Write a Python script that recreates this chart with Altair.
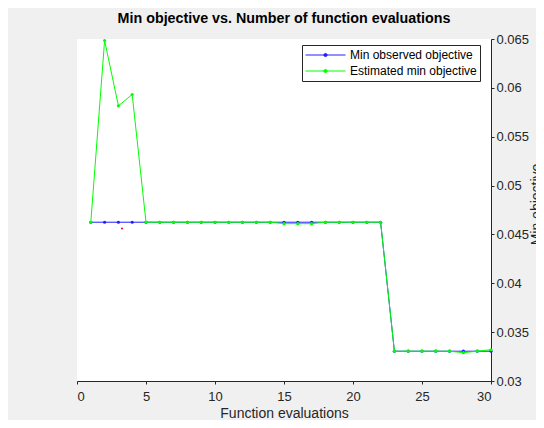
import altair as alt
import pandas as pd

evals = list(range(1, 31))
min_observed = [0.04625] * 22 + [0.03305] * 8
est_min = ([0.04625, 0.06485, 0.05816, 0.05932] + [0.04625] * 10 +
           [0.0461, 0.0461, 0.0461] + [0.04625] * 5 +
           [0.03305] * 5 + [0.0329, 0.03305, 0.0332])
red_x = [3.26]
red_y = [0.04561]

series_names = ["Min observed objective", "Estimated min objective"]
series_colors = ["#2020ff", "#00ff00"]

df = pd.DataFrame({
    "x": evals * 2,
    "y": min_observed + est_min,
    "series": [series_names[0]] * 30 + [series_names[1]] * 30,
    "order": [0] * 30 + [1] * 30,
})
red_df = pd.DataFrame({"x": red_x, "y": red_y})

FONT = "Liberation Sans"
AX = "#262626"

xscale = alt.Scale(domain=[0, 30], nice=False, zero=False)
yscale = alt.Scale(domain=[0.03, 0.065], nice=False, zero=False)

xenc = alt.X("x:Q", scale=xscale, title="Function evaluations",
             axis=alt.Axis(values=[0, 5, 10, 15, 20, 25, 30], format="d", grid=False,
                           domainColor=AX, tickColor=AX, tickSize=3, labelPadding=6,
                           labelColor=AX, labelFontSize=13, labelFont=FONT,
                           titleFont=FONT, titleFontSize=14, titleFontWeight="normal",
                           titleColor=AX, titlePadding=3))
yenc = alt.Y("y:Q", scale=yscale, title="Min objective",
             axis=alt.Axis(orient="right",
                           values=[0.03, 0.035, 0.04, 0.045, 0.05, 0.055, 0.06, 0.065],
                           format=".3~f", grid=False,
                           domainColor=AX, tickColor=AX, tickSize=3, labelPadding=2,
                           labelColor=AX, labelFontSize=13, labelFont=FONT,
                           titleFont=FONT, titleFontSize=14, titleFontWeight="normal",
                           titleColor=AX, titleAngle=270, titleX=38, titleY=165,
                           titleAlign="center", titleBaseline="top"))

color = alt.Color("series:N",
                  scale=alt.Scale(domain=series_names, range=series_colors),
                  legend=alt.Legend(title=None, orient="none", legendX=225, legendY=6,
                                    symbolType="M-1,0H1M-0.08,0A0.08,0.08 0 1,0 0.08,0A0.08,0.08 0 1,0 -0.08,0",
                                    symbolSize=1600, symbolStrokeWidth=1, clipHeight=14,
                                    rowPadding=2, labelFont=FONT, labelFontSize=12,
                                    labelColor="#000000", labelOffset=4, padding=3,
                                    fillColor="#ffffff", strokeColor=AX))

base = alt.Chart(df)
lines = base.mark_line(strokeWidth=1).encode(x=xenc, y=yenc, color=color,
                                             order=alt.Order("x:Q"), detail="series:N")
pts = base.mark_point(filled=True, size=10, opacity=1).encode(
    x="x:Q", y="y:Q",
    color=alt.Color("series:N", scale=alt.Scale(domain=series_names, range=series_colors), legend=None))

blue_lines = lines.transform_filter(alt.datum.order == 0)
blue_pts = pts.transform_filter(alt.datum.order == 0)
green_lines = lines.transform_filter(alt.datum.order == 1)
green_pts = pts.transform_filter(alt.datum.order == 1)

red = alt.Chart(red_df).mark_point(filled=True, size=4, color="#ff0000", opacity=1).encode(
    x="x:Q", y="y:Q")

chart = alt.layer(blue_lines, blue_pts, green_lines, green_pts, red).properties(
    width=414, height=342,
    background="#f0f0f0",
    padding={"left": 69, "top": 31, "right": 45, "bottom": 39},
    autosize=alt.AutoSizeParams(type="none"),
    title=alt.TitleParams("Min objective vs. Number of function evaluations",
                          font=FONT, fontSize=14.3, fontWeight="bold", color="#000000",
                          anchor="middle", offset=7),
).configure_view(fill="#ffffff", stroke=None)

chart.save("out.html", embed_options={"renderer": "svg", "actions": False})
